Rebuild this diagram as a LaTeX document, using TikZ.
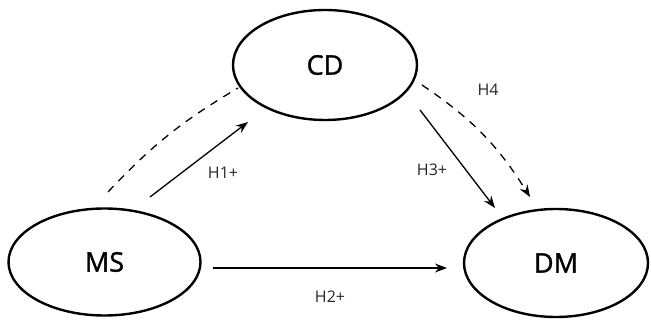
\documentclass[tikz,border=0pt]{standalone}
\usepackage{fontspec}
\setmainfont{Open Sans}
\newfontfamily\varfont{Open Sans}[RawFeature={embolden=1.3}]
\usetikzlibrary{shapes.geometric,arrows.meta,calc}
\tikzset{
  x=1pt,y=1pt,
  var/.style={ellipse,draw,line width=2.4pt,inner sep=0pt,font=\varfont\fontsize{27}{30}\selectfont},
  arr/.style={line width=1.3pt,-{Stealth[length=12pt,width=9pt]}},
  dasharr/.style={arr,dash pattern=on 8pt off 7pt},
  dashline/.style={line width=1.3pt,dash pattern=on 8pt off 7pt},
  lab/.style={font=\fontsize{16}{18}\selectfont,inner sep=0pt,text=black!85}
}
\begin{document}
\begin{tikzpicture}
\useasboundingbox (0,0) rectangle (651,-320);
\node[var,minimum width=192pt,minimum height=107pt] (ms) at (104.5,-262) {MS};
\node[var,minimum width=184pt,minimum height=110pt] (cd) at (325,-65) {CD};
\node[var,minimum width=184pt,minimum height=108pt] (dm) at (556,-263) {DM};
% MS -> CD
\draw[dashline] ($(ms)+(3.5,70)$) to[bend left=8] ($(cd)+(-87,-23)$);
\draw[arr] ($(ms)+(45.5,65)$) -- ($(cd)+(-77,-57)$);
% CD -> DM
\draw[arr] ($(cd)+(95,-45)$) -- ($(dm)+(-61,55)$);
\draw[dasharr] ($(cd)+(97,-20)$) to[bend left=12] ($(dm)+(-26,66)$);
% MS -> DM
\draw[arr] ($(ms)+(108.5,-6)$) -- ($(dm)+(-109,-5)$);
% labels
\node[lab] (h1) at (223,-173) {H1+};
\node[lab] (h2) at (330,-297) {H2+};
\node[lab] (h3) at (432,-170) {H3+};
\node[lab] (h4) at (488,-90) {H4};
\end{tikzpicture}
\end{document}
